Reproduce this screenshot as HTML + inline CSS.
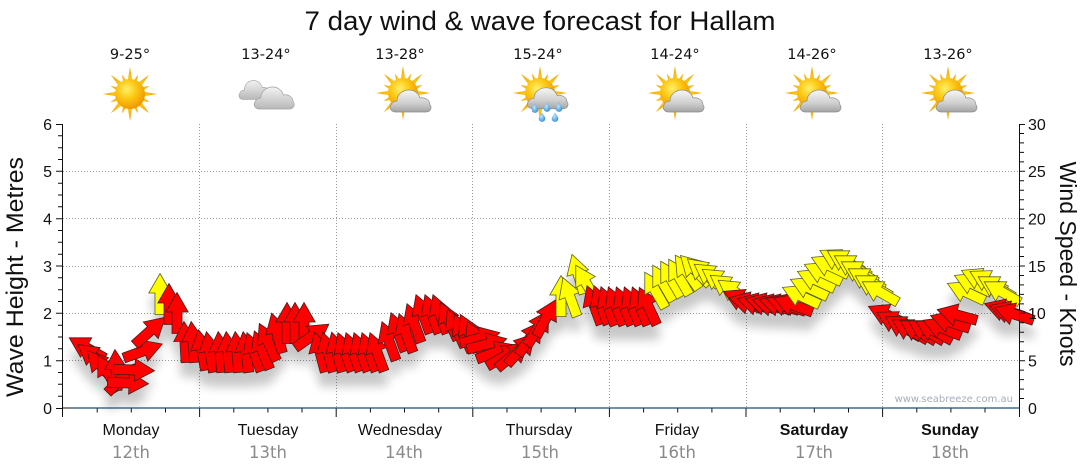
<!DOCTYPE html>
<html>
<head>
<meta charset="utf-8">
<style>
html,body{margin:0;padding:0;background:#fff;}
svg{display:block;}
.r{fill:#ff0000;stroke:#4a1a1a;stroke-width:0.8;}
.y{fill:#ffff00;stroke:#5e5e20;stroke-width:0.8;}
.tk{font-family:"Liberation Sans",Arial,sans-serif;font-size:16px;fill:#111;}
.dn{font-family:"Liberation Sans",Arial,sans-serif;font-size:16px;fill:#111;}
.dd{font-family:"DejaVu Sans","Liberation Sans",sans-serif;font-size:16.5px;fill:#8a8a8a;}
.tp{font-family:"DejaVu Sans","Liberation Sans",sans-serif;font-size:14.5px;fill:#111;}
</style>
</head>
<body>
<svg width="1080" height="475" viewBox="0 0 1080 475" xmlns="http://www.w3.org/2000/svg">
<defs>
  <path id="ar" d="M0,-20.5 L11.2,-1 L5,-1 L5,20.5 L-5,20.5 L-5,-1 L-11.2,-1 Z" stroke-linejoin="miter"/>
  <filter id="sh" x="-5%" y="-30%" width="110%" height="180%">
    <feGaussianBlur in="SourceAlpha" stdDeviation="5"/>
    <feOffset dx="0" dy="14"/>
    <feComponentTransfer><feFuncA type="linear" slope="0.22"/></feComponentTransfer>
    <feMerge><feMergeNode/><feMergeNode in="SourceGraphic"/></feMerge>
  </filter>
  <radialGradient id="sg" cx="0.4" cy="0.35" r="0.7">
    <stop offset="0" stop-color="#fff06a"/>
    <stop offset="0.45" stop-color="#fcc814"/>
    <stop offset="1" stop-color="#f09000"/>
  </radialGradient>
  <linearGradient id="rg" x1="0" y1="0" x2="0" y2="1">
    <stop offset="0" stop-color="#f7a000"/>
    <stop offset="1" stop-color="#fcd020"/>
  </linearGradient>
  <linearGradient id="cg" x1="0" y1="0" x2="0" y2="1">
    <stop offset="0" stop-color="#f6f6f6"/>
    <stop offset="0.6" stop-color="#cfcfcf"/>
    <stop offset="1" stop-color="#a4a4a4"/>
  </linearGradient>
  <linearGradient id="cg2" x1="0" y1="0" x2="0" y2="1">
    <stop offset="0" stop-color="#f2f2f2"/>
    <stop offset="1" stop-color="#b8b8b8"/>
  </linearGradient>
  <radialGradient id="dg" cx="0.4" cy="0.4" r="0.7">
    <stop offset="0" stop-color="#bfe6ff"/>
    <stop offset="1" stop-color="#2a8ad8"/>
  </radialGradient>
  <polygon id="rl" points="-2.6,-12 0,-27 2.6,-12" fill="url(#rg)"/>
  <polygon id="rs" points="-2.2,-12 0,-21 2.2,-12" fill="url(#rg)"/>
  <g id="sun">
    <use href="#rl"/><use href="#rl" transform="rotate(45)"/><use href="#rl" transform="rotate(90)"/><use href="#rl" transform="rotate(135)"/>
    <use href="#rl" transform="rotate(180)"/><use href="#rl" transform="rotate(225)"/><use href="#rl" transform="rotate(270)"/><use href="#rl" transform="rotate(315)"/>
    <use href="#rs" transform="rotate(22.5)"/><use href="#rs" transform="rotate(67.5)"/><use href="#rs" transform="rotate(112.5)"/><use href="#rs" transform="rotate(157.5)"/>
    <use href="#rs" transform="rotate(202.5)"/><use href="#rs" transform="rotate(247.5)"/><use href="#rs" transform="rotate(292.5)"/><use href="#rs" transform="rotate(337.5)"/>
    <circle r="15" fill="url(#sg)"/>
  </g>
  <path id="cl" d="M7,25 C2,25 0,21 2,18 C3,15 6,14 8,14 C8,7 14,3 20,3 C26,3 30,7 31,11 C36,10 41,13 41,18 C43,20 42,25 37,25 Z" fill="url(#cg)" stroke="#8c8c8c" stroke-width="0.7"/>
  <path id="cl2" d="M7,25 C2,25 0,21 2,18 C3,15 6,14 8,14 C8,7 14,3 20,3 C26,3 30,7 31,11 C36,10 41,13 41,18 C43,20 42,25 37,25 Z" fill="url(#cg2)" stroke="#a0a0a0" stroke-width="0.7"/>
  <path id="drop" d="M0,-4.5 C1.7,-1.7 3.3,0 3.3,1.6 A3.3,3.3 0 0 1 -3.3,1.6 C-3.3,0 -1.7,-1.7 0,-4.5 Z" fill="url(#dg)"/>
</defs>

<rect x="0" y="0" width="1080" height="475" fill="#fff"/>

<!-- Title -->
<text x="540" y="30" text-anchor="middle" font-family="Liberation Sans, Arial, sans-serif" font-size="27" fill="#111" textLength="471" lengthAdjust="spacingAndGlyphs">7 day wind &amp; wave forecast for Hallam</text>

<!-- Temps -->
<text class="tp" x="130" y="59" text-anchor="middle">9-25°</text>
<text class="tp" x="266" y="59" text-anchor="middle">13-24°</text>
<text class="tp" x="400" y="59" text-anchor="middle">13-28°</text>
<text class="tp" x="538" y="59" text-anchor="middle">15-24°</text>
<text class="tp" x="675" y="59" text-anchor="middle">14-24°</text>
<text class="tp" x="812" y="59" text-anchor="middle">14-26°</text>
<text class="tp" x="948" y="59" text-anchor="middle">13-26°</text>

<!-- Icons -->
<use href="#sun" transform="translate(130,94)"/>
<use href="#cl2" transform="translate(238,78) scale(0.78,0.86)"/>
<use href="#cl2" transform="translate(253,84) scale(0.98,1)"/>
<use href="#sun" transform="translate(403,93)"/>
<use href="#cl" transform="translate(389,87)"/>
<use href="#sun" transform="translate(540,93)"/>
<use href="#cl" transform="translate(526,85) scale(1,0.95)"/>
<use href="#drop" transform="translate(535,108)"/>
<use href="#drop" transform="translate(547,107)"/>
<use href="#drop" transform="translate(559,107)"/>
<use href="#drop" transform="translate(542,117)"/>
<use href="#drop" transform="translate(555,117)"/>
<use href="#sun" transform="translate(675,93)"/>
<use href="#cl" transform="translate(662,87)"/>
<use href="#sun" transform="translate(812,93)"/>
<use href="#cl" transform="translate(799,87)"/>
<use href="#sun" transform="translate(948,93)"/>
<use href="#cl" transform="translate(935,87)"/>

<!-- Grid -->
<g stroke="#9a9a9a" stroke-width="1" stroke-dasharray="1,2" fill="none">
  <line x1="63" y1="360.5" x2="1019" y2="360.5"/>
  <line x1="63" y1="313.5" x2="1019" y2="313.5"/>
  <line x1="63" y1="266.5" x2="1019" y2="266.5"/>
  <line x1="63" y1="218.5" x2="1019" y2="218.5"/>
  <line x1="63" y1="171.5" x2="1019" y2="171.5"/>
  <line x1="199.5" y1="124" x2="199.5" y2="408"/>
  <line x1="336.5" y1="124" x2="336.5" y2="408"/>
  <line x1="472.5" y1="124" x2="472.5" y2="408"/>
  <line x1="609.5" y1="124" x2="609.5" y2="408"/>
  <line x1="746.5" y1="124" x2="746.5" y2="408"/>
  <line x1="882.5" y1="124" x2="882.5" y2="408"/>
</g>

<!-- Watermark -->
<text x="1013" y="402" text-anchor="end" font-family="DejaVu Sans, Liberation Sans, sans-serif" font-size="10" fill="#a6adbd">www.seabreeze.com.au</text>

<!-- Arrows -->
<g filter="url(#sh)">
<use href="#ar" class="r" transform="translate(87,348) rotate(-60)"/>
<use href="#ar" class="r" transform="translate(94,357) rotate(-52)"/>
<use href="#ar" class="r" transform="translate(101,366) rotate(-42)"/>
<use href="#ar" class="r" transform="translate(108,373) rotate(-30)"/>
<use href="#ar" class="r" transform="translate(116,370) rotate(-3)"/>
<use href="#ar" class="r" transform="translate(122,378) rotate(45)"/>
<use href="#ar" class="r" transform="translate(128,383) rotate(92)"/>
<use href="#ar" class="r" transform="translate(134,370) rotate(92)"/>
<use href="#ar" class="r" transform="translate(143,351) rotate(70)"/>
<use href="#ar" class="r" transform="translate(150,331) rotate(48)"/>
<use href="#ar" class="y" transform="translate(160,294) rotate(0)"/>
<use href="#ar" class="r" transform="translate(169,304) rotate(0)"/>
<use href="#ar" class="r" transform="translate(177,313) rotate(0)"/>
<use href="#ar" class="r" transform="translate(185,342) rotate(-3)"/>
<use href="#ar" class="r" transform="translate(193,342) rotate(-5)"/>

<use href="#ar" class="r" transform="translate(202,350) rotate(-10)"/>
<use href="#ar" class="r" transform="translate(210,352) rotate(-10)"/>
<use href="#ar" class="r" transform="translate(220,352) rotate(-5)"/>
<use href="#ar" class="r" transform="translate(228,352) rotate(-5)"/>
<use href="#ar" class="r" transform="translate(237,352) rotate(-5)"/>
<use href="#ar" class="r" transform="translate(246,352) rotate(-8)"/>
<use href="#ar" class="r" transform="translate(254,352) rotate(-20)"/>
<use href="#ar" class="r" transform="translate(262,350) rotate(-22)"/>
<use href="#ar" class="r" transform="translate(268,342) rotate(-25)"/>
<use href="#ar" class="r" transform="translate(277,333) rotate(-15)"/>
<use href="#ar" class="r" transform="translate(287,323) rotate(0)"/>
<use href="#ar" class="r" transform="translate(295,323) rotate(0)"/>
<use href="#ar" class="r" transform="translate(304,323) rotate(0)"/>
<use href="#ar" class="r" transform="translate(312,336) rotate(55)"/>
<use href="#ar" class="r" transform="translate(320,352) rotate(-15)"/>
<use href="#ar" class="r" transform="translate(328,352) rotate(-15)"/>
<use href="#ar" class="r" transform="translate(337,352) rotate(-15)"/>

<use href="#ar" class="r" transform="translate(345,352) rotate(-20)"/>
<use href="#ar" class="r" transform="translate(353,352) rotate(-20)"/>
<use href="#ar" class="r" transform="translate(361,352) rotate(-20)"/>
<use href="#ar" class="r" transform="translate(369,352) rotate(-20)"/>
<use href="#ar" class="r" transform="translate(377,352) rotate(-20)"/>
<use href="#ar" class="r" transform="translate(389,341) rotate(-20)"/>
<use href="#ar" class="r" transform="translate(398,332) rotate(-20)"/>
<use href="#ar" class="r" transform="translate(406,333) rotate(-20)"/>
<use href="#ar" class="r" transform="translate(414,323) rotate(-20)"/>
<use href="#ar" class="r" transform="translate(423,314) rotate(-20)"/>
<use href="#ar" class="r" transform="translate(432,314) rotate(-20)"/>
<use href="#ar" class="r" transform="translate(440,314) rotate(-20)"/>
<use href="#ar" class="r" transform="translate(449,321) rotate(-25)"/>
<use href="#ar" class="r" transform="translate(456,328) rotate(-25)"/>
<use href="#ar" class="r" transform="translate(463,333) rotate(-25)"/>
<use href="#ar" class="r" transform="translate(469,333) rotate(-25)"/>
<use href="#ar" class="r" transform="translate(476,340) rotate(-25)"/>

<use href="#ar" class="r" transform="translate(480,338) rotate(75)"/>
<use href="#ar" class="r" transform="translate(487,344) rotate(75)"/>
<use href="#ar" class="r" transform="translate(496,352) rotate(70)"/>
<use href="#ar" class="r" transform="translate(505,356) rotate(60)"/>
<use href="#ar" class="r" transform="translate(513,355) rotate(50)"/>
<use href="#ar" class="r" transform="translate(521,349) rotate(42)"/>
<use href="#ar" class="r" transform="translate(530,338) rotate(35)"/>
<use href="#ar" class="r" transform="translate(538,328) rotate(32)"/>
<use href="#ar" class="r" transform="translate(546,318) rotate(28)"/>
<use href="#ar" class="y" transform="translate(561,296) rotate(0)"/>
<use href="#ar" class="y" transform="translate(570,297) rotate(-20)"/>
<use href="#ar" class="y" transform="translate(578,274) rotate(-17)"/>
<use href="#ar" class="y" transform="translate(586,283) rotate(-30)"/>
<use href="#ar" class="r" transform="translate(594,305) rotate(-20)"/>
<use href="#ar" class="r" transform="translate(601,305) rotate(-20)"/>
<use href="#ar" class="r" transform="translate(608,306) rotate(-20)"/>

<use href="#ar" class="r" transform="translate(616,306) rotate(-22)"/>
<use href="#ar" class="r" transform="translate(624,306) rotate(-22)"/>
<use href="#ar" class="r" transform="translate(632,306) rotate(-22)"/>
<use href="#ar" class="r" transform="translate(640,306) rotate(-22)"/>
<use href="#ar" class="r" transform="translate(648,306) rotate(-25)"/>
<use href="#ar" class="y" transform="translate(655,290) rotate(-30)"/>
<use href="#ar" class="y" transform="translate(663,283) rotate(-30)"/>
<use href="#ar" class="y" transform="translate(671,279) rotate(-30)"/>
<use href="#ar" class="y" transform="translate(679,277) rotate(-30)"/>
<use href="#ar" class="y" transform="translate(687,272) rotate(-35)"/>
<use href="#ar" class="y" transform="translate(695,270) rotate(-45)"/>
<use href="#ar" class="y" transform="translate(703,272) rotate(-50)"/>
<use href="#ar" class="y" transform="translate(711,276) rotate(-55)"/>
<use href="#ar" class="y" transform="translate(719,281) rotate(-55)"/>
<use href="#ar" class="y" transform="translate(727,287) rotate(-55)"/>
<use href="#ar" class="y" transform="translate(735,292) rotate(-55)"/>
<use href="#ar" class="r" transform="translate(742,300) rotate(-65)"/>

<use href="#ar" class="r" transform="translate(749,303) rotate(-75)"/>
<use href="#ar" class="r" transform="translate(757,304) rotate(-75)"/>
<use href="#ar" class="r" transform="translate(765,304) rotate(-75)"/>
<use href="#ar" class="r" transform="translate(772,305) rotate(-75)"/>
<use href="#ar" class="r" transform="translate(779,305) rotate(-75)"/>
<use href="#ar" class="r" transform="translate(786,305) rotate(-72)"/>
<use href="#ar" class="r" transform="translate(793,305) rotate(-70)"/>
<use href="#ar" class="y" transform="translate(801,296) rotate(-65)"/>
<use href="#ar" class="y" transform="translate(809,288) rotate(-65)"/>
<use href="#ar" class="y" transform="translate(816,280) rotate(-65)"/>
<use href="#ar" class="y" transform="translate(823,273) rotate(-65)"/>
<use href="#ar" class="y" transform="translate(830,266) rotate(-65)"/>
<use href="#ar" class="y" transform="translate(838,260) rotate(-62)"/>
<use href="#ar" class="y" transform="translate(845,261) rotate(-60)"/>
<use href="#ar" class="y" transform="translate(852,266) rotate(-60)"/>
<use href="#ar" class="y" transform="translate(859,272) rotate(-60)"/>
<use href="#ar" class="y" transform="translate(866,279) rotate(-60)"/>
<use href="#ar" class="y" transform="translate(873,286) rotate(-60)"/>
<use href="#ar" class="y" transform="translate(880,292) rotate(-60)"/>
<use href="#ar" class="r" transform="translate(887,315) rotate(-65)"/>

<use href="#ar" class="r" transform="translate(895,322) rotate(-62)"/>
<use href="#ar" class="r" transform="translate(903,327) rotate(-60)"/>
<use href="#ar" class="r" transform="translate(910,330) rotate(-60)"/>
<use href="#ar" class="r" transform="translate(918,331) rotate(-60)"/>
<use href="#ar" class="r" transform="translate(926,331) rotate(-60)"/>
<use href="#ar" class="r" transform="translate(934,331) rotate(-62)"/>
<use href="#ar" class="r" transform="translate(942,328) rotate(-68)"/>
<use href="#ar" class="r" transform="translate(950,322) rotate(-72)"/>
<use href="#ar" class="r" transform="translate(957,315) rotate(-75)"/>
<use href="#ar" class="y" transform="translate(966,292) rotate(-65)"/>
<use href="#ar" class="y" transform="translate(973,284) rotate(-65)"/>
<use href="#ar" class="y" transform="translate(980,279) rotate(-65)"/>
<use href="#ar" class="y" transform="translate(988,281) rotate(-62)"/>
<use href="#ar" class="y" transform="translate(996,287) rotate(-60)"/>
<use href="#ar" class="y" transform="translate(1002,292) rotate(-60)"/>
<use href="#ar" class="r" transform="translate(1004,310) rotate(-72)"/>
<use href="#ar" class="r" transform="translate(1009,312) rotate(-72)"/>
<use href="#ar" class="r" transform="translate(1014,314) rotate(-72)"/>
</g>

<!-- Axes -->
<g stroke="#111" stroke-width="1" fill="none">
  <line x1="62.5" y1="124" x2="62.5" y2="417"/>
  <path d="M58,396.2H62.5M58,384.3H62.5M58,372.5H62.5M58,348.8H62.5M58,337H62.5M58,325.2H62.5M58,301.5H62.5M58,289.7H62.5M58,277.8H62.5M58,254.2H62.5M58,242.3H62.5M58,230.5H62.5M58,206.8H62.5M58,195H62.5M58,183.2H62.5M58,159.5H62.5M58,147.7H62.5M58,135.8H62.5"/>
  <path d="M56,408.5H62.5M56,360.7H62.5M56,313.3H62.5M56,266H62.5M56,218.7H62.5M56,171.3H62.5M56,124.5H62.5"/>
  <line x1="1019.5" y1="124" x2="1019.5" y2="417"/>
  <path d="M1019.5,398.5H1024M1019.5,389.1H1024M1019.5,379.6H1024M1019.5,370.1H1024M1019.5,351.2H1024M1019.5,341.7H1024M1019.5,332.3H1024M1019.5,322.8H1024M1019.5,303.9H1024M1019.5,294.4H1024M1019.5,284.9H1024M1019.5,275.5H1024M1019.5,256.5H1024M1019.5,247.1H1024M1019.5,237.6H1024M1019.5,228.1H1024M1019.5,209.2H1024M1019.5,199.7H1024M1019.5,190.3H1024M1019.5,180.8H1024M1019.5,161.9H1024M1019.5,152.4H1024M1019.5,142.9H1024M1019.5,133.5H1024"/>
  <path d="M1019.5,360.7H1025M1019.5,313.3H1025M1019.5,266H1025M1019.5,218.7H1025M1019.5,171.3H1025M1019.5,124.5H1025"/>
  <path d="M97.2,408V412.5M131.3,408V412.5M165.5,408V412.5M233.8,408V412.5M267.9,408V412.5M302,408V412.5M370.4,408V412.5M404.5,408V412.5M438.7,408V412.5M507,408V412.5M541.1,408V412.5M575.3,408V412.5M643.6,408V412.5M677.7,408V412.5M711.9,408V412.5M780.2,408V412.5M814.3,408V412.5M848.5,408V412.5M916.8,408V412.5M950.9,408V412.5M985,408V412.5"/>
  <path d="M199.6,408V417M336.2,408V417M472.8,408V417M609.4,408V417M746,408V417M882.6,408V417"/>
  <line x1="62.5" y1="408" x2="75" y2="408"/>
</g>
<line x1="75" y1="408" x2="1019.5" y2="408" stroke="#1b4f78" stroke-width="1.3"/>

<!-- Tick labels -->
<g class="tk" text-anchor="end">
  <text x="52" y="414">0</text>
  <text x="52" y="366.5">1</text>
  <text x="52" y="319">2</text>
  <text x="52" y="272">3</text>
  <text x="52" y="224.5">4</text>
  <text x="52" y="177">5</text>
  <text x="52" y="130">6</text>
</g>
<g class="tk" text-anchor="start">
  <text x="1028" y="414">0</text>
  <text x="1028" y="366.5">5</text>
  <text x="1028" y="319">10</text>
  <text x="1028" y="272">15</text>
  <text x="1028" y="224.5">20</text>
  <text x="1028" y="177">25</text>
  <text x="1028" y="130">30</text>
</g>

<!-- Axis titles -->
<text transform="translate(23,277) rotate(-90)" text-anchor="middle" font-family="Liberation Sans, Arial, sans-serif" font-size="24" fill="#111" textLength="240" lengthAdjust="spacingAndGlyphs">Wave Height - Metres</text>
<text transform="translate(1060,264) rotate(90)" text-anchor="middle" font-family="Liberation Sans, Arial, sans-serif" font-size="23.5" fill="#111" textLength="205" lengthAdjust="spacingAndGlyphs">Wind Speed - Knots</text>

<!-- Day labels -->
<g text-anchor="middle">
  <text class="dn" x="131" y="435">Monday</text>
  <text class="dn" x="268" y="435">Tuesday</text>
  <text class="dn" x="400" y="435">Wednesday</text>
  <text class="dn" x="539" y="435">Thursday</text>
  <text class="dn" x="677" y="435">Friday</text>
  <text class="dn" x="814" y="435" font-weight="bold">Saturday</text>
  <text class="dn" x="950" y="435" font-weight="bold">Sunday</text>
  <text class="dd" x="131" y="458">12th</text>
  <text class="dd" x="268" y="458">13th</text>
  <text class="dd" x="404" y="458">14th</text>
  <text class="dd" x="540" y="458">15th</text>
  <text class="dd" x="677" y="458">16th</text>
  <text class="dd" x="814" y="458">17th</text>
  <text class="dd" x="950" y="458">18th</text>
</g>
</svg>
</body>
</html>
